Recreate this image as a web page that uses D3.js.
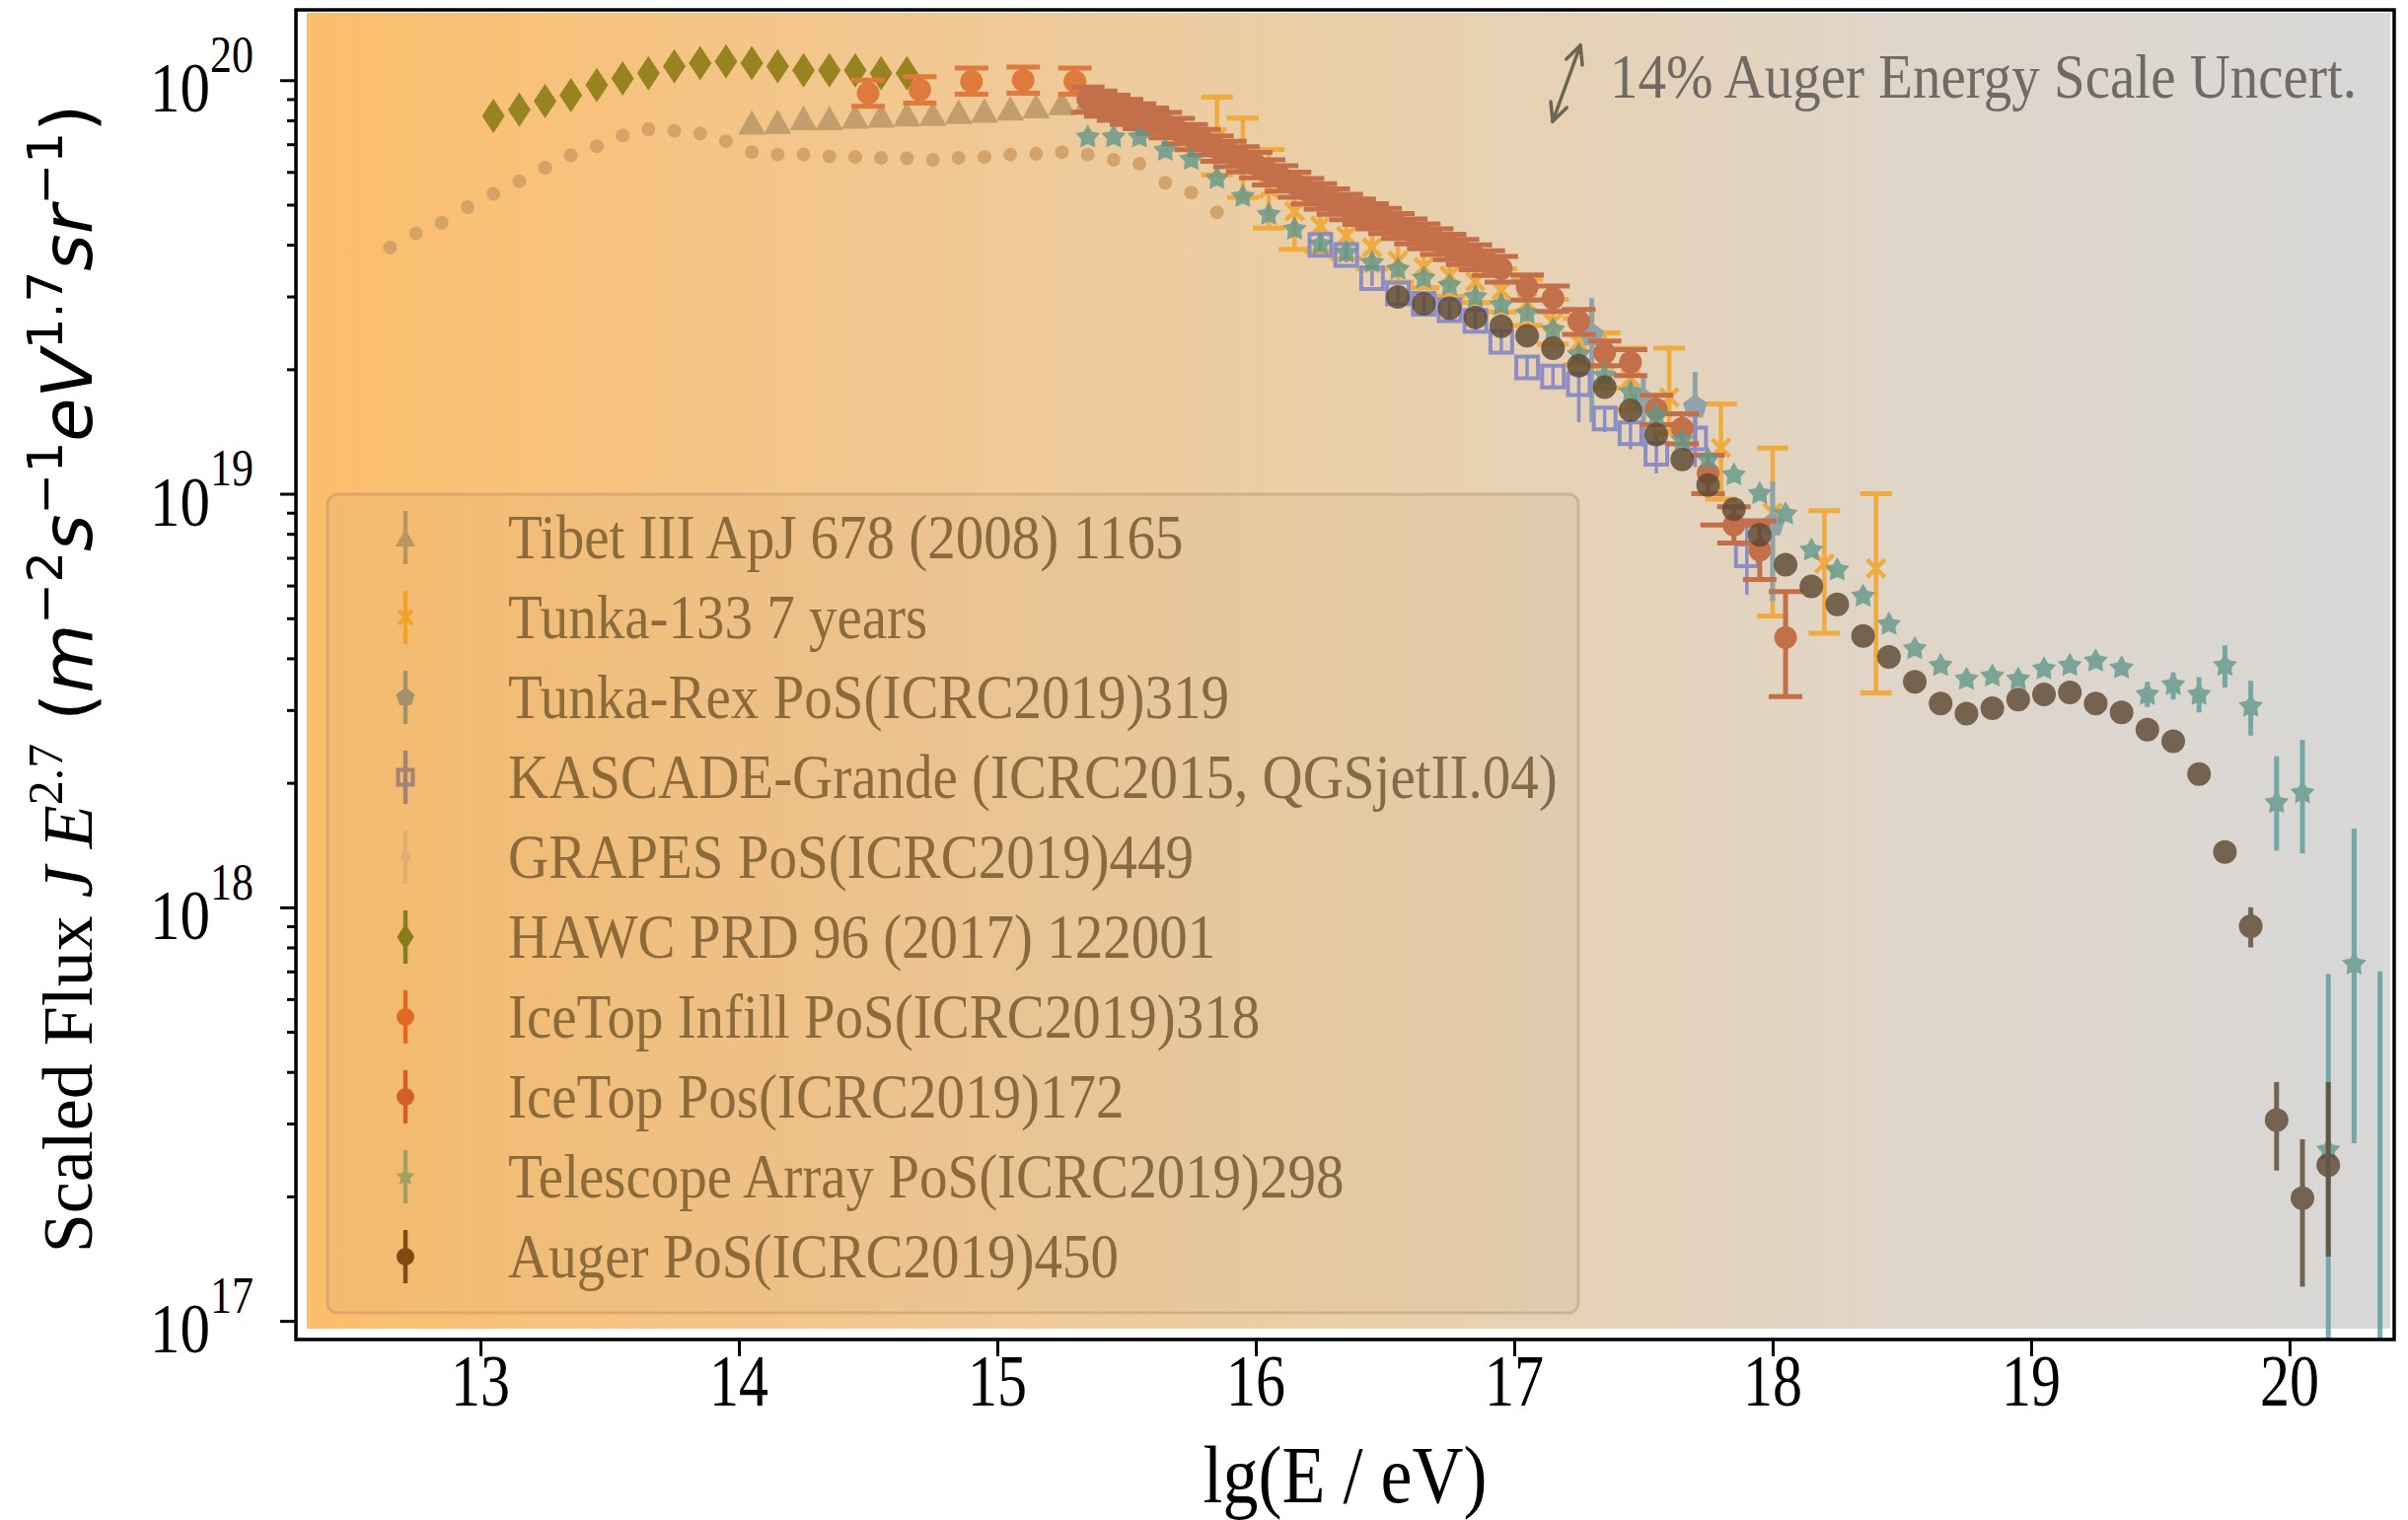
<!DOCTYPE html>
<html><head><meta charset="utf-8">
<script src="https://cdn.jsdelivr.net/npm/d3@7"></script>
<style>body{margin:0;background:#fff;} svg{display:block}</style>
</head><body>
<svg id="chart" width="2441" height="1541"></svg>
<script>
// ---------------- DATA ----------------
const xTicks = [13,14,15,16,17,18,19,20];
const yTickExps = [17,18,19,20];

const tibetX = [14.05,14.15,14.25,14.35,14.45,14.55,14.65,14.75,14.85,14.95,15.05,15.15,15.25,15.35];
const tibetY = [7.91e19,7.94e19,8.11e19,8.11e19,8.17e19,8.22e19,8.27e19,8.30e19,8.39e19,8.45e19,8.55e19,8.66e19,8.81e19,8.93e19];

const tunkaX  = [15.85,15.95,16.05,16.15,16.25,16.35,16.45,16.55,16.65,16.75,16.85,16.95,17.05,17.15,17.25,17.35,17.45,17.6,17.8,18.0,18.2,18.4];
const tunkaY  = [7.3e19,6.5e19,5.46e19,4.82e19,4.44e19,4.2e19,3.94e19,3.66e19,3.53e19,3.37e19,3.26e19,3.1e19,2.9e19,2.6e19,2.32e19,2.1e19,1.9e19,1.71e19,1.29e19,9.0e18,6.78e18,6.6e18];
const tunkaLo = [5.9e19,5.2e19,4.39e19,3.9e19,3.85e19,3.7e19,3.5e19,3.25e19,3.15e19,3.0e19,2.9e19,2.75e19,2.55e19,2.3e19,2.05e19,1.8e19,1.6e19,1.4e19,9.7e18,5.06e18,4.6e18,3.3e18];
const tunkaHi = [9.1e19,8.1e19,6.8e19,5.9e19,5.1e19,4.75e19,4.45e19,4.15e19,4.0e19,3.8e19,3.65e19,3.5e19,3.3e19,2.95e19,2.65e19,2.45e19,2.25e19,2.25e19,1.65e19,1.29e19,9.1e18,1.0e19];

const rexX  = [17.3,17.5,17.7,18.0];
const rexY  = [2.42e19,1.68e19,1.62e19,8.4e18];
const rexLo = [1.49e19,1.3e19,1.3e19,5.5e18];
const rexHi = [2.97e19,1.93e19,1.97e19,1.07e19];

const kgX  = [16.25,16.35,16.45,16.55,16.65,16.75,16.85,16.95,17.05,17.15,17.25,17.35,17.45,17.55,17.70,17.90];
const kgY  = [4.0e19,3.78e19,3.32e19,3.05e19,2.88e19,2.78e19,2.62e19,2.33e19,2.02e19,1.92e19,1.84e19,1.52e19,1.40e19,1.25e19,1.36e19,7.1e18];
const kgLo = [3.85e19,3.63e19,3.18e19,2.92e19,2.75e19,2.65e19,2.48e19,2.2e19,1.9e19,1.8e19,1.49e19,1.41e19,1.28e19,1.12e19,1.16e19,5.7e18];
const kgHi = [4.15e19,3.93e19,3.46e19,3.18e19,3.01e19,2.91e19,2.76e19,2.46e19,2.14e19,2.04e19,1.98e19,1.63e19,1.52e19,1.38e19,1.56e19,8.5e18];

const grapesX = [12.65,12.75,12.85,12.95,13.05,13.15,13.25,13.35,13.45,13.55,13.65,13.75,13.85,13.95,14.05,14.15,14.25,14.35,14.45,14.55,14.65,14.75,14.85,14.95,15.05,15.15,15.25,15.35,15.45,15.55,15.65,15.75,15.85];
const grapesY = [3.94e19,4.26e19,4.52e19,4.93e19,5.31e19,5.70e19,6.14e19,6.58e19,6.92e19,7.35e19,7.61e19,7.55e19,7.43e19,7.12e19,6.70e19,6.61e19,6.61e19,6.54e19,6.52e19,6.49e19,6.47e19,6.42e19,6.49e19,6.52e19,6.61e19,6.64e19,6.70e19,6.61e19,6.42e19,6.28e19,5.65e19,5.35e19,4.79e19];

const hawcX = [13.05,13.15,13.25,13.35,13.45,13.55,13.65,13.75,13.85,13.95,14.05,14.15,14.25,14.35,14.45,14.55,14.65];
const hawcY = [8.2e19,8.48e19,8.9e19,9.2e19,9.73e19,1.01e20,1.04e20,1.08e20,1.10e20,1.11e20,1.10e20,1.08e20,1.056e20,1.056e20,1.056e20,1.04e20,1.04e20];

const infillX  = [14.5,14.7,14.9,15.1,15.3];
const infillY  = [9.31e19,9.48e19,9.93e19,1.0e20,9.93e19];
const infillLo = [8.65e19,8.8e19,9.25e19,9.3e19,9.25e19];
const infillHi = [1.0e20,1.02e20,1.07e20,1.075e20,1.07e20];

const icetopX  = [15.35,15.40,15.45,15.50,15.55,15.60,15.65,15.70,15.75,15.80,15.85,15.90,15.95,16.00,16.05,16.10,16.15,16.20,16.25,16.30,16.35,16.40,16.45,16.50,16.55,16.60,16.65,16.70,16.75,16.80,16.85,16.90,16.95,17.05,17.15,17.25,17.35,17.45,17.55,17.65,17.75,17.85,17.95,18.05];
const icetopY  = [9.0e19,8.8e19,8.6e19,8.4e19,8.2e19,8.0e19,7.8e19,7.55e19,7.3e19,7.1e19,6.85e19,6.65e19,6.45e19,6.25e19,6.0e19,5.8e19,5.6e19,5.4e19,5.25e19,5.1e19,4.95e19,4.82e19,4.7e19,4.58e19,4.45e19,4.32e19,4.2e19,4.08e19,3.96e19,3.85e19,3.74e19,3.62e19,3.5e19,3.16e19,2.97e19,2.61e19,2.19e19,2.08e19,1.60e19,1.44e19,1.12e19,8.4e18,7.3e18,4.49e18];
const icetopLo = [8.37e19,8.18e19,8.0e19,7.81e19,7.63e19,7.44e19,7.25e19,7.02e19,6.79e19,6.6e19,6.37e19,6.18e19,6.0e19,5.81e19,5.58e19,5.39e19,5.21e19,5.02e19,4.88e19,4.74e19,4.6e19,4.48e19,4.37e19,4.26e19,4.14e19,4.02e19,3.91e19,3.79e19,3.68e19,3.58e19,3.48e19,3.37e19,3.25e19,2.94e19,2.76e19,2.43e19,2.04e19,1.93e19,1.47e19,1.32e19,1.0e19,7.6e18,6.2e18,3.23e18];
const icetopHi = [9.63e19,9.42e19,9.2e19,8.99e19,8.77e19,8.56e19,8.35e19,8.08e19,7.81e19,7.6e19,7.33e19,7.12e19,6.9e19,6.69e19,6.42e19,6.21e19,5.99e19,5.78e19,5.62e19,5.46e19,5.3e19,5.16e19,5.03e19,4.9e19,4.76e19,4.62e19,4.49e19,4.37e19,4.24e19,4.12e19,4.0e19,3.87e19,3.75e19,3.38e19,3.18e19,2.79e19,2.34e19,2.23e19,1.73e19,1.56e19,1.24e19,9.3e18,8.6e18,5.8e18];
const icetopXLo = [null,null,null,null,null,null,null,null,null,null,null,null,null,null,null,null,null,null,null,null,null,null,null,null,null,null,null,null,null,null,null,null,null,null,null,null,null,null,null,null,null,17.72,null,null];
const icetopXHi = [null,null,null,null,null,null,null,null,null,null,null,null,null,null,null,null,null,null,null,null,null,null,null,null,null,null,null,null,null,null,null,null,null,null,null,null,null,null,null,null,null,17.99,null,null];

const taX  = [15.35,15.45,15.55,15.65,15.75,15.85,15.95,16.05,16.15,16.25,16.35,16.45,16.55,16.65,16.75,16.85,16.95,17.05,17.15,17.25,17.35,17.45,17.55,17.65,17.75,17.85,17.95,18.05,18.15,18.25,18.35,18.45,18.55,18.65,18.75,18.85,18.95,19.05,19.15,19.25,19.35,19.45,19.55,19.65,19.75,19.85,19.95,20.05,20.15,20.25,20.35];
const taY  = [7.28e19,7.28e19,7.28e19,6.76e19,6.43e19,5.78e19,5.23e19,4.73e19,4.36e19,4.01e19,3.83e19,3.62e19,3.49e19,3.32e19,3.19e19,2.99e19,2.86e19,2.73e19,2.49e19,2.17e19,1.93e19,1.76e19,1.55e19,1.35e19,1.21e19,1.11e19,1.0e19,8.93e18,7.3e18,6.54e18,5.65e18,4.83e18,4.22e18,3.84e18,3.56e18,3.62e18,3.56e18,3.77e18,3.84e18,3.94e18,3.79e18,3.27e18,3.45e18,3.27e18,3.84e18,3.06e18,1.79e18,1.89e18,2.59e17,7.29e17,8.0e16];
const taLo = [null,null,null,null,null,null,null,null,null,null,null,null,null,null,null,null,null,null,null,null,null,null,null,null,null,null,null,null,null,null,null,null,null,null,null,null,null,null,null,null,null,3.05e18,3.18e18,2.96e18,3.40e18,2.60e18,1.37e18,1.35e18,5.0e16,2.69e17,5.0e16];
const taHi = [null,null,null,null,null,null,null,null,null,null,null,null,null,null,null,null,null,null,null,null,null,null,null,null,null,null,null,null,null,null,null,null,null,null,null,null,null,null,null,null,null,3.51e18,3.70e18,3.60e18,4.30e18,3.53e18,2.32e18,2.54e18,6.9e17,1.55e18,7.0e17];

const augerX  = [16.55,16.65,16.75,16.85,16.95,17.05,17.15,17.25,17.35,17.45,17.55,17.65,17.75,17.85,17.95,18.05,18.15,18.25,18.35,18.45,18.55,18.65,18.75,18.85,18.95,19.05,19.15,19.25,19.35,19.45,19.55,19.65,19.75,19.85,19.95,20.05,20.15];
const augerY  = [2.99e19,2.88e19,2.81e19,2.67e19,2.54e19,2.41e19,2.25e19,2.04e19,1.81e19,1.59e19,1.39e19,1.21e19,1.05e19,9.18e18,7.95e18,6.74e18,5.97e18,5.40e18,4.53e18,4.03e18,3.51e18,3.11e18,2.94e18,3.03e18,3.18e18,3.27e18,3.31e18,3.11e18,2.96e18,2.69e18,2.52e18,2.10e18,1.36e18,9.0e17,3.06e17,1.98e17,2.38e17];
const augerLo = [null,null,null,null,null,null,null,null,null,null,null,null,null,null,null,null,null,null,null,null,null,null,null,null,null,null,null,null,null,null,null,null,null,8.0e17,2.31e17,1.21e17,1.43e17];
const augerHi = [null,null,null,null,null,null,null,null,null,null,null,null,null,null,null,null,null,null,null,null,null,null,null,null,null,null,null,null,null,null,null,null,null,1.0e18,3.78e17,2.75e17,3.78e17];

const legendLabels = [
  "Tibet III ApJ 678 (2008) 1165",
  "Tunka-133 7 years",
  "Tunka-Rex PoS(ICRC2019)319",
  "KASCADE-Grande (ICRC2015, QGSjetII.04)",
  "GRAPES PoS(ICRC2019)449",
  "HAWC PRD 96 (2017) 122001",
  "IceTop Infill PoS(ICRC2019)318",
  "IceTop Pos(ICRC2019)172",
  "Telescope Array PoS(ICRC2019)298",
  "Auger PoS(ICRC2019)450"
];
const annotationText = "14% Auger Energy Scale Uncert.";

// ---------------- STYLE / LAYOUT ----------------
const W = 2441, H = 1541;
const PL = 300, PR = 2427, PT = 10, PB = 1358;
const SERIF = "'Liberation Serif','Times New Roman',serif";
const SANS = "'DejaVu Sans',sans-serif";

const x = d3.scaleLinear().domain([12.286, 20.405]).range([PL, PR]);
const y = d3.scaleLog().domain([Math.pow(10,16.955), Math.pow(10,20.17)]).range([PB, PT]);

const svg = d3.select("#chart");
const defs = svg.append("defs");

const bg = defs.append("linearGradient").attr("id","bg")
  .attr("gradientUnits","userSpaceOnUse").attr("x1",311).attr("x2",2423).attr("y1",0).attr("y2",0);
[[0,"#FBBE6B"],[0.25,"#F3C68D"],[0.5,"#EACFA9"],[0.75,"#E0D5C6"],[1,"#D8D8D8"]]
  .forEach(([o,c]) => bg.append("stop").attr("offset",o).attr("stop-color",c));

const txtGrad = defs.append("linearGradient").attr("id","txt")
  .attr("gradientUnits","userSpaceOnUse").attr("x1",311).attr("x2",2423).attr("y1",0).attr("y2",0);
[[0,"#8C6A3A"],[0.5,"#7E6A50"],[1,"#6E6A66"]]
  .forEach(([o,c]) => txtGrad.append("stop").attr("offset",o).attr("stop-color",c));

defs.append("clipPath").attr("id","clip").append("rect")
  .attr("x",PL).attr("y",PT).attr("width",PR-PL).attr("height",PB-PT);

svg.append("rect").attr("x",311).attr("y",13).attr("width",2423-311).attr("height",1347-13).attr("fill","url(#bg)");

// marker paths
const shape = {
  circle: r => `M${-r},0A${r},${r} 0 1,0 ${r},0A${r},${r} 0 1,0 ${-r},0Z`,
  tri: (w,h) => `M0,${-h/2}L${w/2},${h/2}L${-w/2},${h/2}Z`,
  thinDiamond: (w,h) => `M0,${-h/2}L${w/2},0L0,${h/2}L${-w/2},0Z`,
  square: s => `M${-s/2},${-s/2}h${s}v${s}h${-s}Z`,
  cross: s => `M${-s/2},${-s/2}L${s/2},${s/2}M${s/2},${-s/2}L${-s/2},${s/2}`,
  pentagon: r => d3.range(5).map(i => {const a = -Math.PI/2 + i*2*Math.PI/5; return (i?"L":"M")+(r*Math.cos(a)).toFixed(2)+","+(r*Math.sin(a)).toFixed(2);}).join("")+"Z",
  fatStar: (ro, ri) => d3.range(10).map(i => {const a = -Math.PI/2 + i*Math.PI/5, r = i%2 ? ri : ro; return (i?"L":"M")+(r*Math.cos(a)).toFixed(2)+","+(r*Math.sin(a)).toFixed(2);}).join("")+"Z"
};

const plot = svg.append("g").attr("clip-path","url(#clip)");

function series(o) {
  const g = plot.append("g").attr("opacity", o.opacity || 1);
  const idx = d3.range(o.xs.length);
  if (o.lo) {
    idx.filter(i => o.lo[i] != null).forEach(i => {
      const cx = x(o.xs[i]);
      g.append("line").attr("x1",cx).attr("x2",cx).attr("y1",y(o.lo[i])).attr("y2",y(o.hi[i]))
        .attr("stroke",o.errColor||o.color).attr("stroke-width",o.errW||4.5);
      if (o.cap) {
        [o.lo[i], o.hi[i]].forEach(v => g.append("line")
          .attr("x1",cx-o.cap/2).attr("x2",cx+o.cap/2).attr("y1",y(v)).attr("y2",y(v))
          .attr("stroke",o.errColor||o.color).attr("stroke-width",o.capW||5));
      }
    });
  }
  if (o.xlo) {
    idx.filter(i => o.xlo[i] != null).forEach(i => {
      g.append("line").attr("x1",x(o.xlo[i])).attr("x2",x(o.xhi[i])).attr("y1",y(o.ys[i])).attr("y2",y(o.ys[i]))
        .attr("stroke",o.color).attr("stroke-width",o.errW||4.5);
    });
  }
  g.selectAll("path.m").data(idx).join("path").attr("class","m")
    .attr("d", o.path)
    .attr("transform", i => `translate(${x(o.xs[i])},${y(o.ys[i])})`)
    .attr("fill", (o.open || o.stroke) ? "none" : o.color)
    .attr("stroke", (o.open || o.stroke) ? o.color : "none")
    .attr("stroke-width", o.sw || 0);
}

series({xs:tibetX, ys:tibetY, color:"#C29E6C", path:shape.tri(28,25)});
series({xs:tunkaX, ys:tunkaY, lo:tunkaLo, hi:tunkaHi, color:"#EFAA40", cap:32, capW:5, errW:4.5, path:shape.cross(18), stroke:true, sw:4.5});
series({xs:rexX, ys:rexY, lo:rexLo, hi:rexHi, color:"#8FA3A8", errW:5, path:shape.pentagon(13)});
series({xs:kgX, ys:kgY, lo:kgLo, hi:kgHi, color:"#8C8DC4", errW:3.5, path:shape.square(22), open:true, sw:4});
series({xs:grapesX, ys:grapesY, color:"#D0A066", opacity:0.9, path:shape.circle(7)});
series({xs:hawcX, ys:hawcY, color:"#978320", path:shape.thinDiamond(23,35)});
series({xs:infillX, ys:infillY, lo:infillLo, hi:infillHi, color:"#DE7A3C", cap:34, capW:5, errW:5, path:shape.circle(11.5)});
series({xs:icetopX, ys:icetopY, lo:icetopLo, hi:icetopHi, xlo:icetopXLo, xhi:icetopXHi, color:"#C3704A", cap:34, capW:5, errW:5, path:shape.circle(11.5)});
series({xs:taX, ys:taY, lo:taLo, hi:taHi, color:"#62988A", errColor:"#5A9C9C", opacity:0.8, errW:5, path:shape.fatStar(13,7)});
series({xs:augerX, ys:augerY, lo:augerLo, hi:augerHi, color:"#5A4630", opacity:0.8, errW:5, path:shape.circle(12)});

// stretched text helper (reference glyphs are slightly taller than wide)
function sText(parent, tx, ty, sy) {
  return parent.append("text").attr("transform", `translate(${tx},${ty}) scale(1,${sy})`).attr("x",0).attr("y",0);
}

// ---------------- LEGEND ----------------
const legendHandleColors = ["#B9965F","#F5A028","#A59169","#A58273","#DCAF73","#877D19","#E16923","#D25F23","#A5A05F","#7D4B14"];
const legendHandlePaths = [shape.tri(20,18), shape.cross(14), shape.pentagon(10), shape.square(15), shape.circle(5), shape.thinDiamond(17,27), shape.circle(9), shape.circle(9), shape.fatStar(10,5), shape.circle(9)];
const legendHandleKind = ["fill","stroke","fill","open","fill","fill","fill","fill","fill","fill"];

const leg = svg.append("g");
leg.append("rect").attr("x",332).attr("y",501).attr("width",1600-332).attr("height",1331-501)
  .attr("rx",10).attr("fill","rgba(190,160,120,0.10)").attr("stroke","rgba(170,140,100,0.40)").attr("stroke-width",3);
legendLabels.forEach((lab,i) => {
  const cy = 545 + 81*i, hx = 411;
  leg.append("line").attr("x1",hx).attr("x2",hx).attr("y1",cy-27).attr("y2",cy+27)
    .attr("stroke",legendHandleColors[i]).attr("stroke-width",4.5);
  const k = legendHandleKind[i];
  leg.append("path").attr("d",legendHandlePaths[i]).attr("transform",`translate(${hx},${cy})`)
    .attr("fill", k==="fill" ? legendHandleColors[i] : "none")
    .attr("stroke", k==="fill" ? "none" : legendHandleColors[i]).attr("stroke-width",4);
  sText(leg, 515, cy + 21, 1.1)
    .attr("font-family",SERIF).attr("font-size",57).attr("fill","url(#txt)").text(lab);
});

// ---------------- ANNOTATION ----------------
(function(){
  const a = [1574,123], b = [1602,46];
  const g = svg.append("g").attr("stroke","#6E6452").attr("stroke-width",3.5).attr("fill","none").attr("stroke-linecap","round");
  g.append("line").attr("x1",a[0]).attr("y1",a[1]).attr("x2",b[0]).attr("y2",b[1]);
  const ang = Math.atan2(b[1]-a[1], b[0]-a[0]);
  [[b,ang],[a,ang+Math.PI]].forEach(([p,t]) => {
    [0.45,-0.45].forEach(d => g.append("line").attr("x1",p[0]).attr("y1",p[1])
      .attr("x2",p[0]-20*Math.cos(t+d)).attr("y2",p[1]-20*Math.sin(t+d)));
  });
  sText(svg, 1632, 99, 1.1).attr("font-family",SERIF).attr("font-size",57)
    .attr("fill","#6F6A64").text(annotationText);
})();

// ---------------- AXES ----------------
svg.append("rect").attr("x",PL).attr("y",PT).attr("width",PR-PL).attr("height",PB-PT)
  .attr("fill","none").attr("stroke","#000").attr("stroke-width",3.5);

const xAxis = svg.append("g").attr("transform",`translate(0,${PB})`)
  .call(d3.axisBottom(x).tickValues(xTicks).tickSize(17).tickFormat(""));
xAxis.select(".domain").remove();
xAxis.selectAll("line").attr("stroke","#000").attr("stroke-width",3);
xTicks.forEach(v => {
  sText(svg, x(v), 1425, 1.22).attr("text-anchor","middle")
    .attr("font-family",SERIF).attr("font-size",60).attr("fill","#000").text(d3.format("d")(v));
});

const majorY = yTickExps.map(e => Math.pow(10,e));
const minorY = [];
[16,17,18,19,20].forEach(e => d3.range(2,10).forEach(m => { const v = m*Math.pow(10,e); if (v > y.domain()[0] && v < y.domain()[1]) minorY.push(v); }));
const yMaj = svg.append("g").attr("transform",`translate(${PL},0)`)
  .call(d3.axisLeft(y).tickValues(majorY).tickSize(16).tickFormat(""));
const yMin = svg.append("g").attr("transform",`translate(${PL},0)`)
  .call(d3.axisLeft(y).tickValues(minorY).tickSize(9).tickFormat(""));
[yMaj,yMin].forEach(g => { g.select(".domain").remove(); g.selectAll("line").attr("stroke","#000").attr("stroke-width",3); });

yTickExps.forEach(e => {
  const ty = y(Math.pow(10,e));
  const t = sText(svg, 257, ty+32, 1.18).attr("text-anchor","end")
    .attr("font-family",SERIF).attr("font-size",61).attr("fill","#000");
  t.append("tspan").text("10");
  t.append("tspan").attr("font-size",44).attr("dy",-34).text(String(e));
});

// axis labels
sText(svg, (PL+PR)/2, 1523, 1.15).attr("text-anchor","middle")
  .attr("font-family",SERIF).attr("font-size",72).attr("fill","#000").text("lg(E / eV)");

const yl = svg.append("text").attr("transform","translate(93,688) rotate(-90)").attr("text-anchor","middle")
  .attr("font-size",72).attr("fill","#000");
yl.append("tspan").attr("font-family",SERIF).text("Scaled Flux ");
yl.append("tspan").attr("font-family",SERIF).attr("font-style","italic").text("J E");
yl.append("tspan").attr("font-family",SERIF).attr("font-size",50).attr("dy",-30).text("2.7");
yl.append("tspan").attr("font-family",SANS).attr("dy",30).text(" (");
const supParts = [["m","−2"],["s","−1"],["eV","1.7"],["sr","−1"]];
supParts.forEach(([b,s],i) => {
  yl.append("tspan").attr("font-family",SANS).attr("font-style","italic").attr("dy", i === 0 ? 0 : 30).text(b);
  yl.append("tspan").attr("font-family",SANS).attr("font-size",50).attr("dy",-30).text(s);
});
yl.append("tspan").attr("font-family",SANS).attr("dy",30).text(")");
</script>
</body></html>
